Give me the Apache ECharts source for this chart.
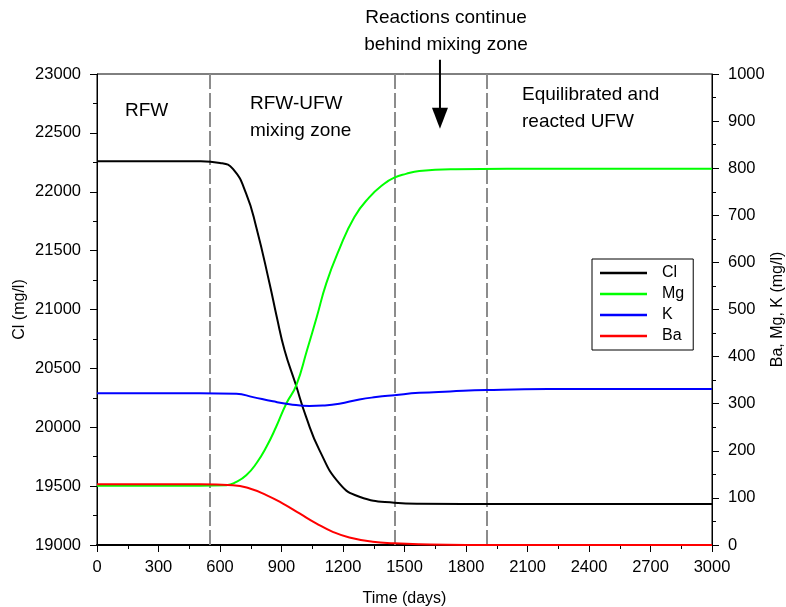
<!DOCTYPE html>
<html>
<head>
<meta charset="utf-8">
<script src="https://cdn.jsdelivr.net/npm/echarts@6/dist/echarts.min.js"></script>
<style>
  html, body { margin: 0; padding: 0; background: #fff; }
  #chart { width: 786px; height: 607px; }
</style>
</head>
<body>
<div id="chart"></div>
<script>
// Chloride (left axis, mg/l) against time in days
const clDays = [0, 300, 501, 600, 663, 728, 777, 842, 877, 915, 968, 1020, 1085, 1182, 1280, 1450, 1572, 2000, 3000];
const clValues = [22260, 22260, 22259, 22245, 22194, 21982, 21699, 21219, 20936, 20654, 20371, 20088, 19806, 19523, 19410, 19359, 19350, 19348, 19348];

// Magnesium (right axis, mg/l)
const mgDays = [0, 300, 501, 631, 680, 728, 777, 826, 874, 923, 972, 1024, 1072, 1118, 1179, 1255, 1328, 1401, 1450, 1507, 1572, 1750, 2000, 3000];
const mgValues = [126, 126, 126, 127, 134, 148, 173, 208, 251, 300, 339, 413, 484, 555, 625, 696, 738, 767, 780, 788, 794, 798, 799, 799];

// Potassium (right axis, mg/l)
const kDays = [0, 300, 501, 680, 761, 858, 939, 1036, 1101, 1182, 1280, 1361, 1450, 1572, 1722, 1900, 2200, 3000];
const kValues = [322, 322, 322, 321, 314, 305, 299, 295, 296, 300, 309, 314, 318, 323, 326, 329, 331, 331];

// Barium (right axis, mg/l)
const baDays = [0, 300, 501, 663, 745, 826, 907, 988, 1069, 1150, 1231, 1345, 1450, 1572, 1800, 3000];
const baValues = [129, 129, 129, 127, 120, 106, 88, 67, 46, 28, 16, 7, 3.5, 1.4, 0, 0];

// Boundaries between flow zones (days)
const zoneBounds = [550, 1450, 1900];

// Arrow marking where reactions continue behind the mixing zone
const arrowDay = 1673;
const arrowTipCl = 22536;
const arrowTopCl = 23121;

const seriesNames = ['Cl', 'Mg', 'K', 'Ba'];
const seriesColors = ['#000000', '#00ff00', '#0000ff', '#ff0000'];

const font = '"Liberation Sans", Arial, Helvetica, sans-serif';
const tickFs = 16.5;
const noteFs = 19;

function pairs(xs, ys) { return xs.map((x, i) => [x, ys[i]]); }
const plain = v => String(v);

const chart = echarts.init(document.getElementById('chart'), null, { renderer: 'canvas' });

const axisCommon = {
  axisLine: { show: true, lineStyle: { color: '#000', width: 1 } },
  axisTick: { show: true, inside: false, length: 7, lineStyle: { color: '#000', width: 1 } },
  minorTick: { show: true, splitNumber: 2, length: 4, lineStyle: { color: '#000', width: 1 } },
  splitLine: { show: false },
  axisLabel: { color: '#000', fontSize: tickFs, fontFamily: font, formatter: plain },
  nameTextStyle: { color: '#000', fontSize: 16, fontFamily: font },
  nameMoveOverlap: false
};

function lineSeries(name, idx, xs, ys, yAxisIndex, extra) {
  return Object.assign({
    name: name,
    type: 'line',
    yAxisIndex: yAxisIndex,
    data: pairs(xs, ys),
    showSymbol: false,
    symbol: 'none',
    smooth: 0.5,
    lineStyle: { color: seriesColors[idx], width: 2 },
    itemStyle: { color: seriesColors[idx] },
    animation: false,
    z: 3
  }, extra || {});
}

const option = {
  animation: false,
  backgroundColor: '#fff',
  grid: {
    left: 97, right: 74, top: 74, bottom: 62,
    outerBoundsMode: 'none',
    containLabel: false,
    show: true, borderColor: '#000', borderWidth: 1, backgroundColor: 'transparent'
  },
  legend: {
    data: seriesNames,
    orient: 'vertical',
    left: 592, top: 259,
    padding: [5, 9, 5, 8],
    itemWidth: 47, itemHeight: 2.5, itemGap: 3,
    icon: 'rect',
    borderColor: '#000', borderWidth: 1,
    backgroundColor: '#fff',
    textStyle: { color: '#000', fontSize: 16, fontFamily: font, lineHeight: 18, padding: [0, 0, 0, 10] },
    selectedMode: false
  },
  xAxis: Object.assign({}, axisCommon, {
    type: 'value',
    min: 0, max: 3000, interval: 300,
    name: 'Time (days)',
    nameLocation: 'middle',
    nameGap: 46,
    axisLine: { show: true, onZero: false, lineStyle: { color: '#000', width: 2 } },
    axisLabel: Object.assign({}, axisCommon.axisLabel, { margin: 14 })
  }),
  yAxis: [
    Object.assign({}, axisCommon, {
      type: 'value',
      position: 'left',
      min: 19000, max: 23000, interval: 500,
      name: 'Cl (mg/l)',
      nameLocation: 'middle',
      nameRotate: 90,
      nameGap: 69,
      axisLabel: Object.assign({}, axisCommon.axisLabel, { margin: 16 })
    }),
    Object.assign({}, axisCommon, {
      type: 'value',
      position: 'right',
      min: 0, max: 1000, interval: 100,
      name: 'Ba, Mg, K (mg/l)',
      nameLocation: 'middle',
      nameRotate: 90,
      nameGap: 58,
      axisLabel: Object.assign({}, axisCommon.axisLabel, { margin: 16 })
    })
  ],
  series: [
    lineSeries('Cl', 0, clDays, clValues, 0, {
      markLine: {
        silent: true,
        symbol: ['none', 'none'],
        label: { show: false },
        lineStyle: { color: '#8c8c8c', width: 2, type: [15, 4] },
        data: zoneBounds.map(d => ({ xAxis: d })),
        z: 2
      }
    }),
    lineSeries('Mg', 1, mgDays, mgValues, 1),
    lineSeries('K', 2, kDays, kValues, 1),
    lineSeries('Ba', 3, baDays, baValues, 1)
  ]
};

chart.setOption(option);

// Annotations: zone labels and the arrow, placed from axis values
const arrowTip = chart.convertToPixel({ xAxisIndex: 0, yAxisIndex: 0 }, [arrowDay, arrowTipCl]);
const arrowTail = chart.convertToPixel({ xAxisIndex: 0, yAxisIndex: 0 }, [arrowDay, arrowTopCl]);
const headH = 21, headW = 8;

function label(text, x, y, align) {
  return {
    type: 'text',
    style: {
      text: text, x: x, y: y,
      font: noteFs + 'px ' + font,
      fill: '#000',
      align: align || 'left',
      verticalAlign: 'middle',
      lineHeight: 27
    },
    z: 10
  };
}

chart.setOption({
  graphic: [
    label('RFW', 125, 111),
    label('RFW-UFW\nmixing zone', 250, 117),
    label('Equilibrated and\nreacted UFW', 522, 108),
    label('Reactions continue\nbehind mixing zone', 446, 31, 'center'),
    {
      type: 'line',
      shape: { x1: arrowTail[0], y1: arrowTail[1], x2: arrowTip[0], y2: arrowTip[1] - headH + 2 },
      style: { stroke: '#000', lineWidth: 2 },
      z: 10
    },
    {
      type: 'polygon',
      shape: { points: [[arrowTip[0] - headW, arrowTip[1] - headH], [arrowTip[0] + headW, arrowTip[1] - headH], [arrowTip[0], arrowTip[1]]] },
      style: { fill: '#000' },
      z: 10
    }
  ]
});
</script>
</body>
</html>
